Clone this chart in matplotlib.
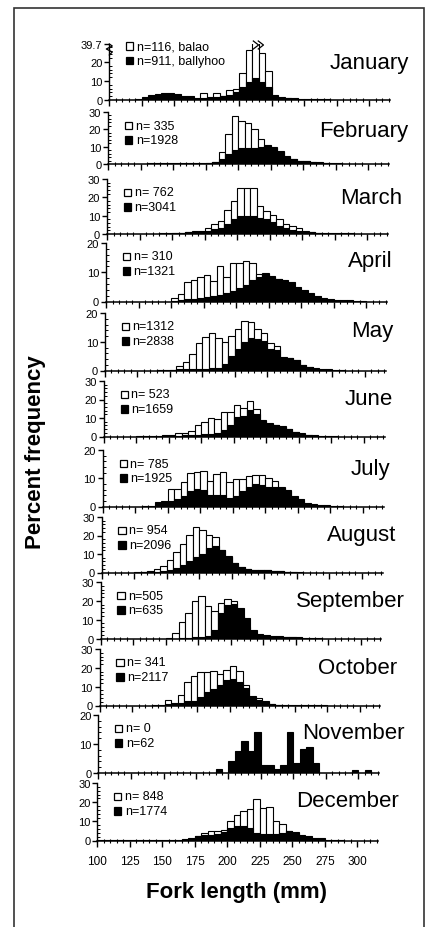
import numpy as np
import matplotlib
matplotlib.use("Agg")
import matplotlib.pyplot as plt
from matplotlib.patches import Rectangle
from matplotlib.transforms import blended_transform_factory

plt.rcParams['font.family'] = ['Liberation Sans', 'DejaVu Sans']

# 5 mm fork length classes (left edges), 100 .. 310 mm
bins = np.arange(100, 315, 5)

months = ['January', 'February', 'March', 'April', 'May', 'June', 'July',
          'August', 'September', 'October', 'November', 'December']
n_balao = ['n=116, balao', 'n= 335', 'n= 762', 'n= 310', 'n=1312', 'n= 523',
           'n= 785', 'n= 954', 'n=505', 'n= 341', 'n= 0', 'n= 848']
n_ballyhoo = ['n=911, ballyhoo', 'n=1928', 'n=3041', 'n=1321', 'n=2838', 'n=1659',
              'n=1925', 'n=2096', 'n=635', 'n=2117', 'n=62', 'n=1774']
y_max = [29.5, 30, 30, 20, 20, 30, 20, 30, 30, 30, 20, 30]

# percent frequency per class, white = balao, black = ballyhoo
jan_balao = [0, 0, 0, 0, 0,  0, 0, 0, 0, 0,  0, 0, 0, 0, 3.9,  1.0, 3.9, 2.2, 5.2, 5.8,
             14.3, 26.3, 39.7, 24.5, 15.5,  2.2, 1.5, 0.8, 0, 0,  0, 0, 0, 0, 0,  0, 0, 0, 0, 0,  0, 0, 0]
jan_ballyhoo = [0, 0, 0, 0, 0.3,  1.6, 2.5, 3.4, 3.9, 3.9,  3.0, 2.2, 2.2, 1.2, 1.3,  1.6, 1.8, 2.2, 2.6, 4.0,
                6.6, 9.3, 11.4, 9.3, 6.6,  2.5, 1.3, 1.1, 0.8, 0.5,  0.3, 0.3, 0.3, 0.3, 0.2,  0, 0, 0, 0, 0,  0, 0, 0]
feb_balao = [0, 0, 0, 0, 0,  0, 0, 0, 0, 0,  0, 0, 0, 0, 0,  0.3, 1.3, 7.0, 17.3, 27.6,
             25.0, 23.7, 20.2, 14.5, 11.2,  10.0, 7.7, 4.5, 3.0, 2.0,  1.5, 1.0, 1.3, 0.5, 0,  0, 0, 0, 0, 0,  0, 0, 0]
feb_ballyhoo = [0, 0, 0, 0, 0,  0, 0.3, 0.3, 0.3, 0.3,  0.3, 0.3, 0.3, 0.3, 0.4,  0.6, 1.0, 3.0, 6.0, 8.0,
                9.0, 9.0, 9.5, 10.0, 10.5,  9.5, 7.0, 4.0, 3.0, 2.0,  1.5, 1.0, 0.8, 0.5, 0.4,  0.3, 0.2, 0, 0, 0,  0, 0, 0]
mar_balao = [0, 0, 0, 0, 0,  0, 0, 0, 0, 0,  0.3, 0.8, 1.0, 1.5, 1.5,  3.3, 5.6, 7.0, 13.0, 17.8,
             25.2, 25.0, 25.0, 15.4, 12.6,  10.2, 8.0, 5.6, 4.3, 3.3,  1.5, 1.0, 0.5, 0, 0,  0, 0, 0, 0, 0,  0, 0, 0]
mar_ballyhoo = [0, 0, 0, 0, 0,  0, 0, 0, 0.3, 0.4,  0.5, 0.6, 1.0, 1.0, 1.2,  1.5, 2.5, 3.5, 5.5, 8.0,
                9.8, 9.8, 9.8, 9.0, 8.0,  6.5, 4.5, 3.3, 2.3, 1.5,  1.2, 1.0, 0.7, 0.5, 0.5,  0.4, 0.3, 0.3, 0.2, 0,  0, 0, 0]
apr_balao = [0, 0, 0, 0, 0,  0, 0, 0, 0, 0,  1.3, 2.5, 6.8, 7.4, 8.5,  9.1, 7.0, 12.0, 8.5, 13.1,
             13.1, 13.9, 13.1, 9.3, 9.6,  8.4, 7.6, 6.5, 4.0, 2.0,  1.0, 0.5, 0, 0, 0,  0, 0, 0, 0, 0,  0, 0, 0]
apr_ballyhoo = [0, 0, 0, 0, 0,  0, 0, 0, 0, 0,  0.3, 0.5, 0.8, 1.0, 1.2,  1.5, 1.8, 2.2, 2.8, 3.5,
                4.5, 5.6, 7.4, 8.5, 9.3,  8.8, 7.8, 7.2, 6.5, 5.0,  3.8, 2.8, 2.0, 1.3, 0.9,  0.6, 0.5, 0.4, 0.3, 0.2,  0, 0, 0]
may_balao = [0, 0, 0, 0, 0,  0, 0, 0, 0, 0,  0.3, 1.4, 2.9, 5.9, 9.4,  11.7, 13.2, 11.4, 10.0, 11.9,
             14.4, 17.2, 16.7, 14.4, 13.1,  9.4, 8.6, 4.8, 4.5, 3.7,  1.9, 1.1, 0.5, 0, 0,  0, 0, 0, 0, 0,  0, 0, 0]
may_ballyhoo = [0, 0, 0, 0, 0,  0, 0, 0, 0.2, 0.3,  0.3, 0.4, 0.5, 0.5, 0.5,  0.6, 0.8, 1.0, 2.1, 5.1,
                7.6, 10.0, 11.4, 11.1, 10.3,  7.6, 7.0, 4.5, 4.3, 3.5,  2.0, 1.2, 0.7, 0.5, 0.4,  0.3, 0.2, 0, 0, 0,  0, 0, 0]
jun_balao = [0, 0, 0, 0, 0,  0, 0, 0, 0, 0,  0, 1.8, 1.8, 3.1, 6.0,  8.0, 9.9, 9.2, 13.1, 13.5,
             17.0, 15.6, 19.0, 15.0, 8.8,  7.2, 6.2, 5.5, 4.3, 2.5,  1.5, 0.8, 0, 0, 0,  0, 0, 0, 0, 0,  0, 0, 0]
jun_ballyhoo = [0, 0, 0, 0, 0,  0.3, 0.4, 0.5, 0.5, 0.7,  0.6, 0.5, 0.6, 0.8, 1.0,  1.2, 1.5, 2.0, 3.3, 6.0,
                10.6, 11.1, 14.2, 12.4, 8.6,  7.0, 6.4, 5.3, 4.2, 2.4,  1.9, 1.0, 0.7, 0.5, 0.3,  0.2, 0, 0, 0, 0,  0, 0, 0]
jul_balao = [0, 0, 0, 0, 0,  0, 0, 0, 0, 1.8,  6.3, 6.3, 8.7, 11.8, 12.3,  12.6, 9.0, 11.4, 12.3, 8.8,
             9.6, 9.9, 10.8, 11.1, 11.1,  10.2, 9.0, 7.0, 5.8, 3.0,  2.0, 1.0, 0, 0, 0,  0, 0, 0, 0, 0,  0, 0, 0]
jul_ballyhoo = [0, 0, 0, 0, 0,  0, 0.2, 0.3, 1.5, 1.5,  1.9, 2.7, 3.8, 5.6, 6.2,  5.8, 4.0, 4.0, 4.0, 3.1,
                3.8, 5.6, 6.8, 8.0, 7.5,  7.0, 6.8, 6.5, 5.5, 3.8,  2.6, 1.4, 0.9, 0.6, 0.4,  0.3, 0.2, 0, 0, 0,  0, 0, 0]
aug_balao = [0, 0, 0, 0, 0,  0, 0.3, 1.0, 2.1, 3.4,  7.0, 10.9, 15.3, 20.3, 24.8,  23.0, 20.3, 19.1, 12.3, 8.7,
             5.2, 3.0, 2.0, 1.4, 1.4,  1.4, 0.8, 0.8, 0.4, 0.4,  0, 0, 0, 0, 0,  0, 0, 0, 0, 0,  0, 0, 0]
aug_ballyhoo = [0, 0, 0, 0, 0,  0.3, 0.3, 0.4, 0.5, 0.8,  1.5, 2.5, 4.0, 6.0, 8.5,  10.0, 13.5, 14.5, 12.0, 8.5,
                5.0, 3.0, 2.0, 1.4, 1.4,  1.2, 0.8, 0.6, 0.4, 0.3,  0.2, 0, 0, 0, 0,  0, 0, 0, 0, 0,  0, 0, 0]
sep_balao = [0, 0, 0, 0, 0,  0, 0, 0, 0, 0,  0.3, 2.7, 8.6, 13.5, 19.8,  22.5, 17.1, 14.4, 18.9, 21.2,
             19.8, 12.0, 6.0, 3.0, 1.5,  1.0, 0.8, 0.5, 0.8, 1.0,  0.5, 0, 0, 0, 0,  0, 0, 0, 0, 0,  0, 0, 0]
sep_ballyhoo = [0, 0, 0, 0, 0,  0, 0, 0, 0, 0,  0, 0, 0.3, 0.5, 0.6,  0.8, 1.5, 4.5, 13.5, 18.0,
                18.5, 16.2, 10.8, 4.5, 2.2,  1.6, 1.1, 1.1, 1.0, 0.7,  0.6, 0.4, 0.3, 0.3, 0,  0, 0, 0, 0, 0,  0, 0, 0]
oct_balao = [0, 0, 0, 0, 0,  0, 0, 0, 0, 0,  2.7, 1.0, 5.7, 12.5, 15.7,  17.8, 17.8, 18.2, 16.9, 18.7,
             21.0, 18.2, 11.1, 5.0, 3.9,  2.5, 0.8, 0.5, 0, 0,  0, 0, 0, 0, 0,  0, 0, 0, 0, 0,  0, 0, 0]
oct_ballyhoo = [0, 0, 0, 0, 0,  0, 0, 0, 0.2, 0.3,  0.8, 1.2, 1.5, 2.3, 2.6,  4.3, 7.0, 9.0, 11.0, 13.3,
                14.3, 12.5, 9.5, 4.5, 3.0,  2.0, 0.8, 0.5, 0.5, 0.5,  0.4, 0.4, 0.3, 0.3, 0.2,  0, 0, 0, 0, 0,  0, 0, 0]
nov_balao = [0] * 43
nov_ballyhoo = [0, 0, 0, 0, 0,  0, 0, 0, 0, 0,  0, 0, 0, 0, 0,  0, 0, 0, 1.5, 0,
                4.3, 7.6, 11.1, 7.6, 14.0,  2.9, 2.9, 1.5, 2.9, 14.0,  3.5, 8.2, 9.0, 3.5, 0,  0, 0, 0, 0, 1.2,  0, 1.2, 0]
dec_balao = [0, 0, 0, 0, 0,  0, 0, 0, 0, 0,  0, 0, 0, 0, 0,  2.4, 4.0, 4.9, 4.9, 5.4,
             10.3, 13.2, 15.4, 16.6, 21.6,  16.8, 17.7, 10.3, 8.6, 4.9,  4.0, 2.5, 1.5, 0, 0,  0, 0, 0, 0, 0,  0, 0, 0]
dec_ballyhoo = [0.3, 0.3, 0.3, 0.3, 0.3,  0.3, 0.3, 0.3, 0.3, 0.3,  0.3, 0.3, 0.3, 0.6, 1.3,  2.4, 2.7, 3.0, 3.3, 4.5,
                6.3, 7.6, 7.6, 6.7, 4.1,  3.4, 3.6, 3.6, 4.0, 4.9,  4.5, 3.1, 2.3, 1.5, 1.2,  0.5, 0.3, 0.2, 0, 0,  0, 0, 0]

balao = [jan_balao, feb_balao, mar_balao, apr_balao, may_balao, jun_balao,
         jul_balao, aug_balao, sep_balao, oct_balao, nov_balao, dec_balao]
ballyhoo = [jan_ballyhoo, feb_ballyhoo, mar_ballyhoo, apr_ballyhoo, may_ballyhoo, jun_ballyhoo,
            jul_ballyhoo, aug_ballyhoo, sep_ballyhoo, oct_ballyhoo, nov_ballyhoo, dec_ballyhoo]

# layout, in pixels of the 427x928 picture (the scan is slightly skewed)
W, H = 427, 928
base_px = [101, 165, 235, 302.5, 371.5, 437.5, 507.5, 573.5, 639.5, 706.5, 774, 841.5]
top_px = [45, 113, 180, 244, 314, 382, 451, 518, 583, 650, 716, 784]
left_px = [109.3 - 1.08 * i for i in range(12)]
month_right = [300, 300, 295, 287, 288, 289, 287, 295, 304, 298, 306, 301]
ax_w = 216 * 1.3

fig = plt.figure(figsize=(W / 100, H / 100), dpi=100)

for i in range(12):
    ax_h = base_px[i] - top_px[i]
    ax = fig.add_axes([left_px[i] / W, 1 - base_px[i] / H, ax_w / W, ax_h / H])
    ax.patch.set_alpha(0)
    w = np.array(balao[i], dtype=float)
    b = np.array(ballyhoo[i], dtype=float)
    mw = w > 0
    mb = b > 0
    ax.bar(bins[mw], w[mw], width=5, align='edge', color='white', edgecolor='black', linewidth=0.8)
    ax.bar(bins[mb], b[mb], width=5, align='edge', color='black', edgecolor='black', linewidth=0.8)

    ax.set_xlim(100, 316)
    ax.set_ylim(0, y_max[i])
    for s in ['top', 'right']:
        ax.spines[s].set_visible(False)
    ax.spines['left'].set_linewidth(1.0)
    ax.spines['bottom'].set_linewidth(1.1)

    ax.set_xticks(np.arange(100, 301, 25))
    ax.set_xticks(np.arange(100, 316, 5), minor=True)
    ax.tick_params(axis='x', which='major', direction='out', length=4.5, width=1.0,
                   labelsize=8.5, pad=6, labelbottom=(i == 11))
    ax.tick_params(axis='x', which='minor', direction='inout', length=3, width=0.8)
    if i == 0:
        ax.set_yticks([0, 10, 20, y_max[i]])
        ax.set_yticklabels(['0', '10', '20', '39.7'])
    else:
        ax.set_yticks(np.arange(0, y_max[i] + 1, 10))
    ax.set_yticks(np.arange(0, y_max[i], 2), minor=True)
    ax.tick_params(axis='y', which='major', direction='out', length=3.5, width=1.0,
                   labelsize=8, pad=1.5)
    ax.tick_params(axis='y', which='minor', direction='in', length=2, width=0.7)

    # little legend
    top1 = 2 if i == 0 else 13.5
    for k, (fc, txt) in enumerate([('white', n_balao[i]), ('black', n_ballyhoo[i])]):
        yc = 1 - (top1 + 14.5 * k) / ax_h
        ax.add_patch(Rectangle((16.7 / ax_w, yc - 3.6 / ax_h), 7.3 / ax_w, 7.3 / ax_h,
                               transform=ax.transAxes, facecolor=fc, edgecolor='black',
                               linewidth=0.9, clip_on=False))
        ax.text(27.5 / ax_w, yc, txt, transform=ax.transAxes, ha='left', va='center',
                fontsize=9)

    ax.text(month_right[i] / ax_w, 1 - 18 / ax_h, months[i], transform=ax.transAxes,
            ha='right', va='center', fontsize=16)

    if i == 0:
        # axis break on the y axis and on the tallest bar
        dx, dy = 1 / ax_w, 1 / ax_h
        ax.plot([0, 3 * dx, -3 * dx, 3 * dx, 0],
                [1 - 11 * dy, 1 - 8 * dy, 1 - 5 * dy, 1 - 2 * dy, 1],
                transform=ax.transAxes, color='black', lw=0.9, clip_on=False)
        tr = blended_transform_factory(ax.transData, ax.transAxes)
        for x0 in (210.8, 214.6):
            ax.plot([x0, x0 + 4, x0], [1 + 3 * dy, 1 - 1 * dy, 1 - 5 * dy],
                    transform=tr, color='black', lw=0.9, clip_on=False)

fig.text(237 / W, 1 - 893 / H, 'Fork length (mm)', ha='center', va='center',
         fontsize=16, fontweight='bold')
fig.text(36 / W, 1 - 452 / H, 'Percent frequency', ha='center', va='center',
         rotation=90, fontsize=16, fontweight='bold')

fig.patches.append(Rectangle((14 / W, -0.02), 410 / W, (H - 9) / H + 0.02,
                             transform=fig.transFigure, fill=False,
                             edgecolor='#333333', linewidth=1.2))

fig.savefig('out.png', dpi=100)
